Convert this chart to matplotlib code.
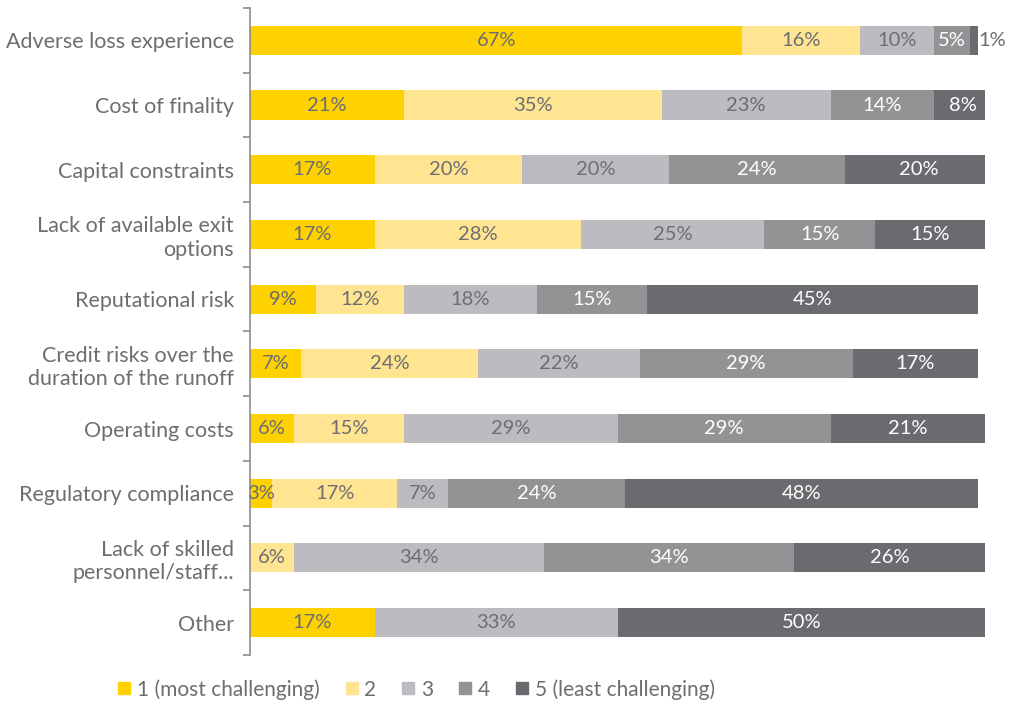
import numpy as np
import matplotlib.pyplot as plt
from matplotlib.lines import Line2D

plt.rcParams['font.family'] = ['Lato', 'DejaVu Sans']

categories = [
    "Adverse loss experience",
    "Cost of finality",
    "Capital constraints",
    "Lack of available exit\noptions",
    "Reputational risk",
    "Credit risks over the\nduration of the runoff",
    "Operating costs",
    "Regulatory compliance",
    "Lack of skilled\npersonnel/staff...",
    "Other",
]

# share of respondents per rating, one list per rating level
rating_1 = [67, 21, 17, 17, 9, 7, 6, 3, 0, 17]
rating_2 = [16, 35, 20, 28, 12, 24, 15, 17, 6, 0]
rating_3 = [10, 23, 20, 25, 18, 22, 29, 7, 34, 33]
rating_4 = [5, 14, 24, 15, 15, 29, 29, 24, 34, 0]
rating_5 = [1, 8, 20, 15, 45, 17, 21, 48, 26, 50]

series_labels = ["1 (most challenging)", "2", "3", "4", "5 (least challenging)"]
colors = ["#FDD200", "#FFE592", "#BCBCC0", "#939396", "#6A6A6F"]
text_colors = ["#6D6D72", "#6D6D72", "#6D6D72", "white", "white"]
TEXT_GREY = "#6D6D72"

series = [rating_1, rating_2, rating_3, rating_4, rating_5]

fig = plt.figure(figsize=(10.09, 7.05), dpi=100)
ax = fig.add_axes([0.2478, 0.071, 0.7284, 0.9177])

y = np.arange(len(categories))
left = np.zeros(len(categories))
for vals, col, tcol in zip(series, colors, text_colors):
    vals = np.array(vals, dtype=float)
    ax.barh(y, vals, left=left, height=0.45, color=col, linewidth=0)
    for i, v in enumerate(vals):
        if v <= 0:
            continue
        if v < 2:
            # too narrow to hold the label, put it just past the bar end
            ax.text(left[i] + v + 0.1, y[i], f"{v:.0f}%", ha="left", va="center",
                    fontsize=14.5, color=TEXT_GREY)
        else:
            ax.text(left[i] + v / 2, y[i], f"{v:.0f}%", ha="center", va="center",
                    fontsize=14.5, color=tcol)
    left += vals

ax.set_xlim(0, 100)
ax.set_ylim(len(categories) - 0.5, -0.5)
ax.set_yticks(y)
ax.set_yticklabels(categories, fontsize=15.5, color=TEXT_GREY, linespacing=1.2)
ax.tick_params(axis="y", length=0, pad=11.5)
ax.set_yticks(np.arange(-0.5, len(categories)), minor=True)
ax.tick_params(axis="y", which="minor", length=5, color="#8C8C8C", width=1.2)
ax.set_xticks([])
for side in ["top", "right", "bottom"]:
    ax.spines[side].set_visible(False)
ax.spines["left"].set_color("#8C8C8C")
ax.spines["left"].set_linewidth(1.2)

handles = [Line2D([], [], marker="s", linestyle="none", markersize=8.5,
                  markerfacecolor=c, markeredgecolor=c) for c in colors]
fig.legend(handles, series_labels, loc="center left", bbox_to_anchor=(0.094, 0.022),
           ncol=5, frameon=False, fontsize=15, handletextpad=0.1,
           columnspacing=1.05, labelcolor=TEXT_GREY, handlelength=1.0)

fig.savefig("out.png", dpi=100)
